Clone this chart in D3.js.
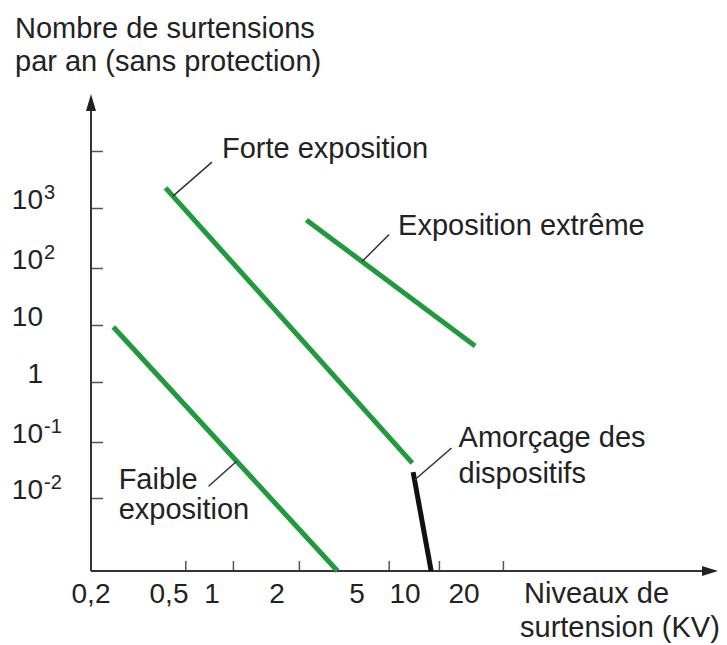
<!DOCTYPE html>
<html>
<head>
<meta charset="utf-8">
<script src="https://cdnjs.cloudflare.com/ajax/libs/d3/7.8.5/d3.min.js"></script>
<style>
	body { margin: 0; background: #fff; }
	text { font-family: "Liberation Sans", Arial, sans-serif; fill: #222; }
</style>
</head>
<body>
<svg id="chart"></svg>
<script>
var width = 727, height = 645;

// x : niveaux de surtension (kV), y : nombre de surtensions par an
var xLabelValues = [0.2, 0.5, 1, 2, 5, 10, 20];
var xLabelText = ["0,2", "0,5", "1", "2", "5", "10", "20"];
var xTickMarks = [0.65, 1.25, 2.57, 7.9, 14.9, 31.6];
var yTickValues = [1e-2, 1e-1, 1, 10, 1e2, 1e3, 1e4];
var yLabelBase = ["10", "10", "1", "10", "10", "10"];
var yLabelExp = ["-2", "-1", "", "", "2", "3"];
var xMin = 0.2, yMin = 5e-4, yMax = 1e5;

var faible = [[0.26, 9.2], [4.0, 5e-4]];
var forte = [[0.48, 2250], [10.9, 0.042]];
var extreme = [[2.8, 630], [22.8, 4.3]];
var amorcage = [[11.0, 0.029], [13.6, 5e-4]];

var series = [
	{ data: faible, color: "#1f9a3c" },
	{ data: forte, color: "#1f9a3c" },
	{ data: extreme, color: "#1f9a3c" },
	{ data: amorcage, color: "#111" }
];

// the printed axis is not a regular log scale, so use a piecewise one
var x = d3.scaleLog().domain(xLabelValues).range([91, 169, 212, 277, 357, 405, 464]);
var y = d3.scaleLog().domain([yMin].concat(yTickValues)).range([571, 498, 442, 382, 325, 268, 208, 151]);

var svg = d3.select("#chart").attr("width", width).attr("height", height);

// titles
var title = svg.append("text").attr("x", 15).attr("y", 38).style("font-size", "29px");
title.append("tspan").attr("x", 15).text("Nombre de surtensions");
title.append("tspan").attr("x", 15).attr("dy", 33).text("par an (sans protection)");

var xTitle = svg.append("text").attr("y", 603).style("font-size", "29px");
xTitle.append("tspan").attr("x", 524).text("Niveaux de");
xTitle.append("tspan").attr("x", 520).attr("dy", 34).text("surtension (KV)");

// ticks
var yAxis = svg.append("g")
	.attr("transform", "translate(" + x(xMin) + ",0)")
	.call(d3.axisLeft(y).tickValues(yTickValues).tickSizeInner(-12).tickSizeOuter(0).tickFormat(""));
var xAxis = svg.append("g")
	.attr("transform", "translate(0," + y(yMin) + ")")
	.call(d3.axisBottom(x).tickValues(xTickMarks).tickSizeInner(-10).tickSizeOuter(0).tickFormat(""));
svg.selectAll(".domain").remove();
svg.selectAll(".tick line").attr("stroke", "#555").attr("stroke-width", 1.5);

// axis lines with arrows
var ox = x(xMin), oy = y(yMin), topY = y(yMax), rightX = 718;
svg.append("path")
	.attr("d", "M" + ox + "," + oy + "V" + (topY + 10) + "M" + ox + "," + oy + "H" + (rightX - 10))
	.attr("fill", "none").attr("stroke", "#333").attr("stroke-width", 2);
svg.append("path")
	.attr("d", "M" + ox + "," + topY + "L" + (ox - 5) + "," + (topY + 17) + "L" + (ox + 5) + "," + (topY + 17) + "Z")
	.attr("fill", "#222");
svg.append("path")
	.attr("d", "M" + rightX + "," + oy + "L" + (rightX - 16) + "," + (oy - 5) + "L" + (rightX - 16) + "," + (oy + 5) + "Z")
	.attr("fill", "#222");

// tick labels
svg.selectAll(".xlab").data(xLabelValues).enter().append("text")
	.attr("class", "xlab")
	.attr("x", function(d) { return x(d); })
	.attr("y", 603)
	.attr("text-anchor", "middle")
	.style("font-size", "28px")
	.text(function(d, i) { return xLabelText[i]; });

var ylab = svg.selectAll(".ylab").data(yLabelBase).enter().append("g").attr("class", "ylab");
ylab.append("text")
	.attr("x", 43)
	.attr("y", function(d, i) { return y(yTickValues[i]) + 1; })
	.attr("text-anchor", "end")
	.style("font-size", "28px")
	.text(function(d) { return d; });
ylab.append("text")
	.attr("x", 44)
	.attr("y", function(d, i) { return y(yTickValues[i]) - 9; })
	.style("font-size", "20px")
	.text(function(d, i) { return yLabelExp[i]; });

// series
var line = d3.line().x(function(d) { return x(d[0]); }).y(function(d) { return y(d[1]); });
svg.selectAll(".serie").data(series).enter().append("path")
	.attr("class", "serie")
	.attr("d", function(d) { return line(d.data); })
	.attr("fill", "none")
	.attr("stroke", function(d) { return d.color; })
	.attr("stroke-width", 5);

// annotations : point on the line (fraction t), leader offset, label offset
var annotations = [
	{ data: forte, t: 0.03, leader: [39, -34], label: [10, -4], lh: 33, lines: ["Forte exposition"] },
	{ data: extreme, t: 0.33, leader: [27, -27], label: [9, 0], lh: 33, lines: ["Exposition extrême"] },
	{ data: faible, t: 0.55, leader: [-28, 25], label: [-90, 3], lh: 30, lines: ["Faible", "exposition"] },
	{ data: amorcage, t: 0.08, leader: [37, -32], label: [7, -1], lh: 36, lines: ["Amorçage des", "dispositifs"] }
];

annotations.forEach(function(a) {
	var x0 = x(a.data[0][0]), y0 = y(a.data[0][1]);
	var x1 = x(a.data[1][0]), y1 = y(a.data[1][1]);
	var ax = x0 + a.t * (x1 - x0), ay = y0 + a.t * (y1 - y0);
	var lx = ax + a.leader[0], ly = ay + a.leader[1];
	svg.append("line")
		.attr("x1", ax).attr("y1", ay).attr("x2", lx).attr("y2", ly)
		.attr("stroke", "#333").attr("stroke-width", 1.5);
	var t = svg.append("text").attr("y", ly + a.label[1]).style("font-size", "29px");
	a.lines.forEach(function(s, i) {
		t.append("tspan").attr("x", lx + a.label[0]).attr("dy", i ? a.lh : 0).text(s);
	});
});
</script>
</body>
</html>
